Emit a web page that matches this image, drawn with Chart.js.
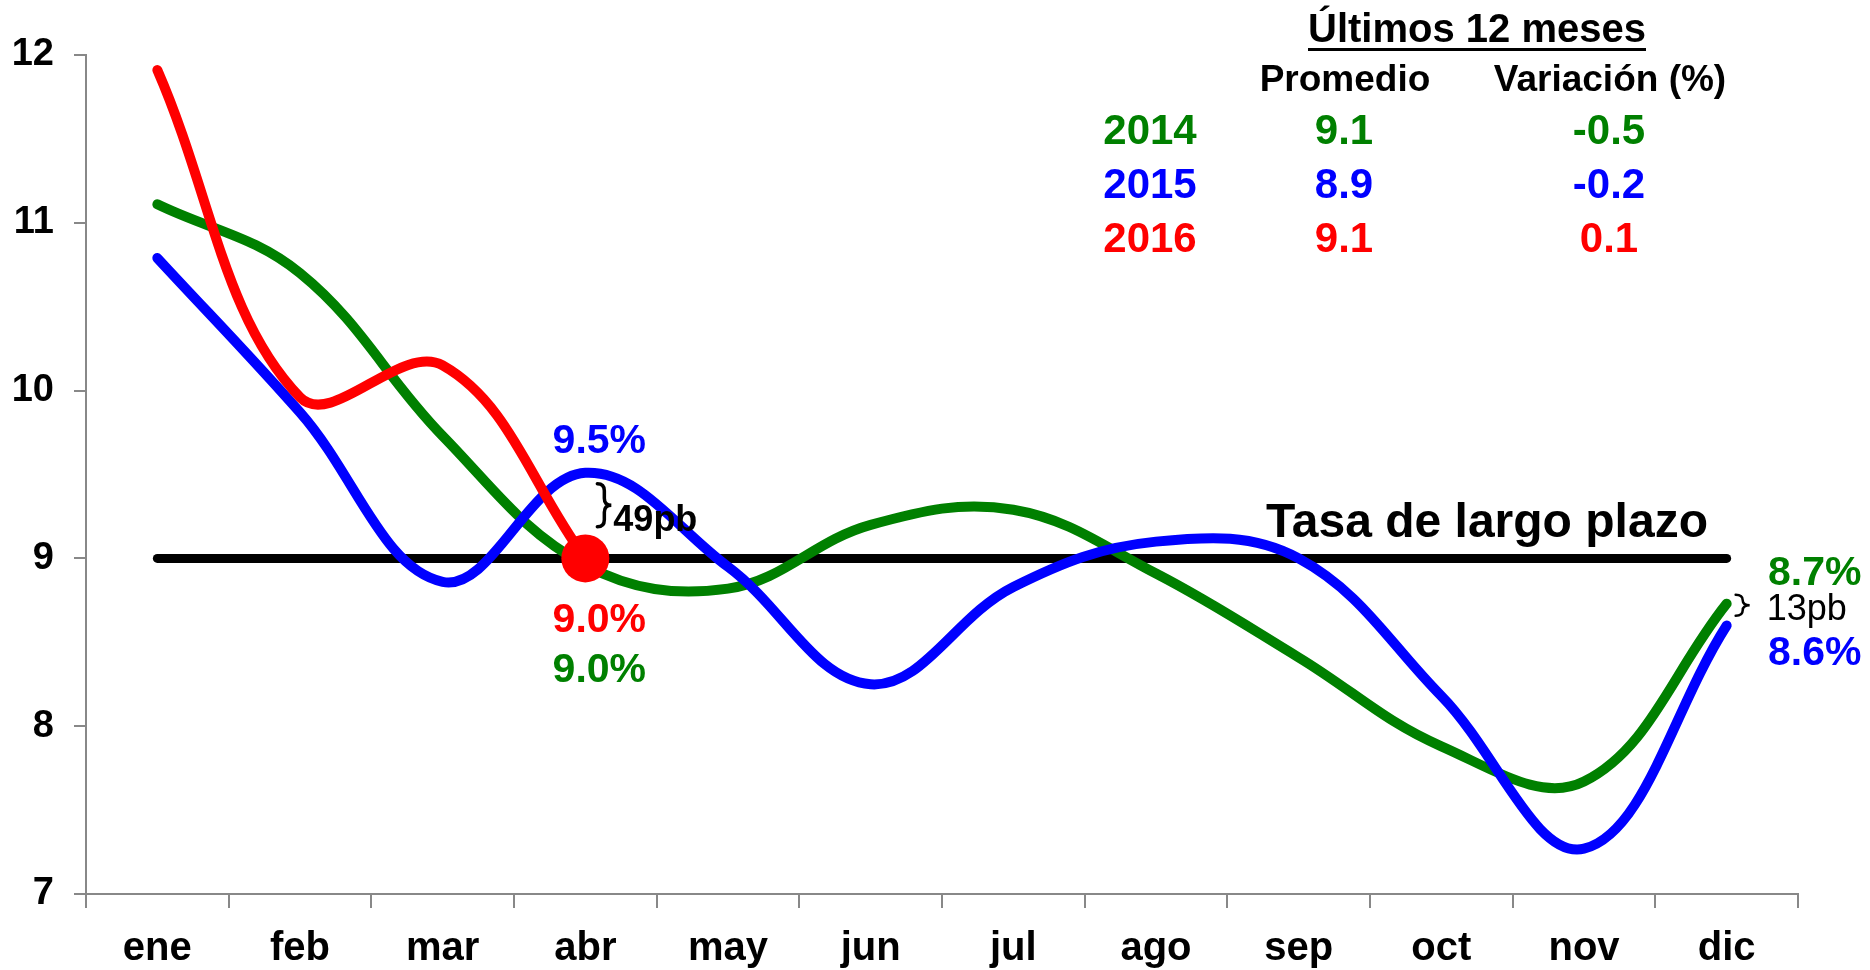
<!DOCTYPE html>
<html>
<head>
<meta charset="utf-8">
<script src="https://cdn.jsdelivr.net/npm/chart.js@4/dist/chart.umd.min.js"></script>
<style>
  body { margin: 0; background: #fff; }
  #wrap { width: 1870px; height: 970px; position: relative; }
</style>
</head>
<body>
<div id="wrap"><canvas id="grafica"></canvas></div>
<script>
// datos
var meses = ['ene', 'feb', 'mar', 'abr', 'may', 'jun', 'jul', 'ago', 'sep', 'oct', 'nov', 'dic'];
var tasa2014 = [11.11, 10.70, 9.73, 8.96, 8.82, 9.20, 9.29, 8.91, 8.41, 7.88, 7.67, 8.73];
var tasa2015 = [10.79, 9.87, 8.86, 9.51, 8.95, 8.25, 8.83, 9.10, 9.00, 8.18, 7.27, 8.60];
var tasa2016 = [11.91, 9.96, 10.15, 9.00, null, null, null, null, null, null, null, null];
var tasaLargoPlazo = [9, 9, 9, 9, 9, 9, 9, 9, 9, 9, 9, 9];
var ejeY = [7, 8, 9, 10, 11, 12];

// tabla "Ultimos 12 meses"
var tablaAnios = ['2014', '2015', '2016'];
var tablaPromedio = ['9.1', '8.9', '9.1'];
var tablaVariacion = ['-0.5', '-0.2', '0.1'];
var tablaColores = ['#008000', '#0000FF', '#FF0000'];

var FUENTE = '"Liberation Sans", Arial, sans-serif';

function texto(ctx, t, x, y, size, color, bold, align) {
    ctx.font = (bold ? 'bold ' : '') + size + 'px ' + FUENTE;
    ctx.fillStyle = color;
    ctx.textAlign = align || 'center';
    ctx.textBaseline = 'middle';
    ctx.fillText(t, x, y);
}

// llave "}" dibujada como trazo
function llave(ctx, x, y0, y1, w, lw) {
    var m = (y0 + y1) / 2, h = w / 2;
    var r = Math.min(h, (y1 - y0) / 4);
    ctx.strokeStyle = '#000';
    ctx.lineWidth = lw;
    ctx.lineCap = 'round';
    ctx.beginPath();
    ctx.moveTo(x, y0);
    ctx.quadraticCurveTo(x + h, y0, x + h, y0 + r);
    ctx.lineTo(x + h, m - r);
    ctx.quadraticCurveTo(x + h, m, x + w, m);
    ctx.quadraticCurveTo(x + h, m, x + h, m + r);
    ctx.lineTo(x + h, y1 - r);
    ctx.quadraticCurveTo(x + h, y1, x, y1);
    ctx.stroke();
}

var anotaciones = {
    id: 'anotaciones',
    afterDatasetsDraw: function (chart) {
        var ctx = chart.ctx;
        var x = chart.scales.x, y = chart.scales.y;
        ctx.save();

        // etiquetas en abril
        var xAbr = x.getPixelForValue(3);
        var yAzul = y.getPixelForValue(tasa2015[3]);
        var yRojo = y.getPixelForValue(tasa2016[3]);
        texto(ctx, '9.5%', xAbr + 14, yAzul - 31, 41, '#0000FF', true);
        llave(ctx, xAbr + 12, yAzul + 11, yAzul + 54, 14, 3.5);
        texto(ctx, '49pb', xAbr + 28, yAzul + 48, 36, '#000', true, 'left');
        texto(ctx, '9.0%', xAbr + 14, yRojo + 62, 41, '#FF0000', true);
        texto(ctx, '9.0%', xAbr + 14, yRojo + 112, 41, '#008000', true);

        // etiquetas en diciembre
        var xDic = x.getPixelForValue(11);
        var yVerde = y.getPixelForValue(tasa2014[11]);
        texto(ctx, '8.7%', xDic + 88, yVerde - 30, 41, '#008000', true);
        llave(ctx, xDic + 9, yVerde - 9, yVerde + 12, 14, 2.5);
        texto(ctx, '13pb', xDic + 40, yVerde + 6, 36, '#000', false, 'left');
        texto(ctx, '8.6%', xDic + 88, y.getPixelForValue(tasa2015[11]) + 28, 41, '#0000FF', true);

        // linea de largo plazo
        texto(ctx, 'Tasa de largo plazo', 1487, y.getPixelForValue(9) - 35, 48, '#000', true);

        // tabla
        texto(ctx, 'Últimos 12 meses', 1477, 31, 40, '#000', true);
        ctx.fillStyle = '#000';
        ctx.fillRect(1308, 48, 338, 3);
        texto(ctx, 'Promedio', 1345, 81, 37, '#000', true);
        texto(ctx, 'Variación (%)', 1610, 81, 37, '#000', true);
        var filas = [132, 186, 240];
        for (var i = 0; i < tablaAnios.length; i++) {
            texto(ctx, tablaAnios[i], 1150, filas[i], 42, tablaColores[i], true);
            texto(ctx, tablaPromedio[i], 1344, filas[i], 42, tablaColores[i], true);
            texto(ctx, tablaVariacion[i], 1609, filas[i], 42, tablaColores[i], true);
        }
        ctx.restore();
    }
};

var ctx = document.getElementById('grafica').getContext('2d');
var grafica = new Chart(ctx, {
    type: 'line',
    data: {
        labels: meses,
        datasets: [
            {
                label: '2016',
                data: tasa2016,
                borderColor: '#FF0000',
                backgroundColor: '#FF0000',
                borderWidth: 10,
                pointRadius: [0, 0, 0, 24, 0, 0, 0, 0, 0, 0, 0, 0],
                pointBorderWidth: 0,
                tension: 0.38
            },
            {
                label: '2015',
                data: tasa2015,
                borderColor: '#0000FF',
                borderWidth: 10,
                pointRadius: 0,
                tension: 0.38
            },
            {
                label: '2014',
                data: tasa2014,
                borderColor: '#008000',
                borderWidth: 10,
                pointRadius: 0,
                tension: 0.38
            },
            {
                label: 'Tasa de largo plazo',
                data: tasaLargoPlazo,
                borderColor: '#000000',
                borderWidth: 9,
                pointRadius: 0,
                tension: 0
            }
        ].map(function (d) {
            d.fill = false;
            d.borderCapStyle = 'round';
            d.borderJoinStyle = 'round';
            return d;
        })
    },
    options: {
        responsive: true,
        maintainAspectRatio: false,
        animation: false,
        layout: { padding: { top: 55, right: 72, bottom: 0, left: 0 } },
        plugins: {
            legend: { display: false },
            tooltip: { enabled: false }
        },
        scales: {
            x: {
                offset: true,
                grid: { offset: true, drawOnChartArea: false, tickLength: 14, color: '#888', lineWidth: 2 },
                border: { color: '#888', width: 2 },
                ticks: { color: '#000', padding: 17, font: { family: FUENTE, size: 40, weight: 'bold' } },
                afterFit: function (s) { s.height = 76; }
            },
            y: {
                min: ejeY[0],
                max: ejeY[ejeY.length - 1],
                afterBuildTicks: function (s) { s.ticks = ejeY.map(function (v) { return { value: v }; }); },
                grid: { drawOnChartArea: false, tickLength: 12, color: '#888', lineWidth: 2 },
                border: { color: '#888', width: 2 },
                ticks: { color: '#000', padding: 20, font: { family: FUENTE, size: 38, weight: 'bold' } },
                afterFit: function (s) { s.width = 86; }
            }
        }
    },
    plugins: [anotaciones]
});
</script>
</body>
</html>
